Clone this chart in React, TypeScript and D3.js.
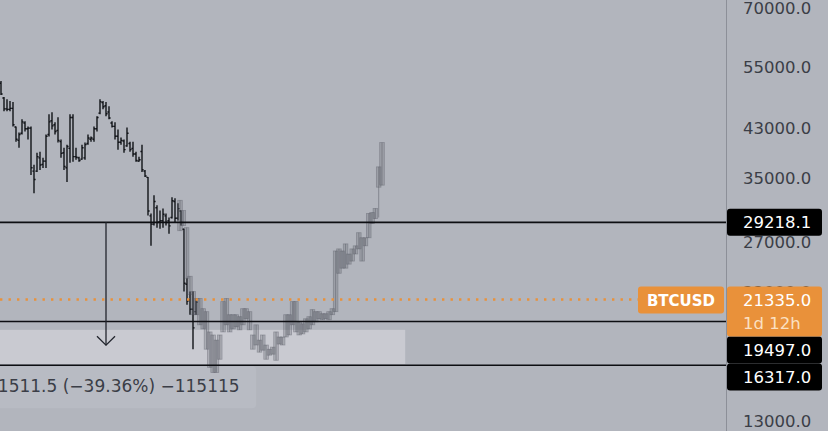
import React from "react";
import * as d3 from "d3";

const W = 828;
const H = 431;

// Black OHLC bars (price)
const blackHigh = [52000,48700,48280,47900,47700,43200,42150,44460,44100,43200,43200,36930,38800,38960,38010,41800,45400,45770,43920,44830,40935,39610,40100,45400,45400,39610,38170,40100,40440,41800,41450,43200,45020,48280,47900,47700,46920,44100,43920,42660,41280,40935,43020,40600,40600,38960,38170,40100,36170,35150,30290,32630,31310,30664,30920,30290,29800,32360,32230,31570,30660,28470,23260,22041,22041,21420];
const blackLow = [49100,45950,45950,45950,43200,40600,39600,41800,42315,40935,35450,32900,35880,36170,36470,36470,41450,42660,41800,40440,38010,36170,34430,37240,37390,37690,37390,37690,37690,40100,40600,40600,42315,45400,46330,45020,44460,43020,40935,39280,40100,38800,39780,38960,38170,37390,37390,35880,35150,30050,26550,28830,28590,28470,28590,28830,27890,29670,29190,29424,28830,22041,20890,20050,17420,20050];
const blackOpen = [51500,48500,46400,46300,46500,43100,40800,42000,43800,42800,42900,36000,36000,38000,37000,37500,41800,44200,43500,42500,40600,38800,36500,39500,44800,38200,38000,37800,38000,40300,41000,41000,42800,45600,47600,47000,45800,43800,43200,41500,40500,40700,39900,40300,39500,38600,37500,39000,36000,35100,30000,29000,31000,29300,29400,30000,29400,29800,31800,29700,30600,28400,22700,21300,20500,20300];
const blackClose = [49300,46400,46300,46500,43500,41000,41800,44000,42800,42900,36500,34800,38200,36900,37500,41500,44000,43300,42300,40800,38700,36700,39800,44800,38200,38100,37600,39600,40100,41200,41200,42800,44800,47800,46800,45500,44700,43200,41500,40500,40800,39300,42000,39300,38600,37600,37700,36200,35300,30600,29000,31800,29200,29400,30200,29200,28800,31900,29700,30900,29200,22800,21200,20500,19000,21100];

// Gray pattern candles (price)
const grayHigh = [31960,30660,28590,23450,22040,21420,21420,20550,20300,18690,18460,18080,18460,21150,21420,20050,20050,20050,19890,20550,20550,20300,18460,19240,18080,18460,17720,17420,17570,18690,18310,18310,20050,20050,21150,21150,19470,19320,19720,19890,20470,20300,20300,20130,20130,20300,20550,26000,26220,26000,26760,25680,26220,26550,28010,27440,27440,30290,30420,30920,36630,40440];
const grayLow = [28240,28830,23260,21770,20050,20050,19240,18920,17420,16180,15840,15840,16720,18690,19240,18690,18920,19080,18850,19240,19720,18850,17420,17720,17210,17350,16720,17000,17070,16650,17790,17720,18310,18460,19240,18690,18460,18540,18690,18920,19240,19470,19720,19640,19720,19640,20050,20300,23740,24240,24240,24640,24950,25680,26220,24950,26550,27440,29070,29670,29800,34000];
const grayOpen = [31960,30660,28590,23450,22040,20050,21420,20550,20300,18690,18460,15840,16720,18690,21420,20050,18920,20050,18850,19240,20550,20300,18460,17720,18080,17350,17720,17420,17070,16650,18310,17720,18310,18460,19240,21150,19470,18540,18690,18920,19240,20300,19720,20130,19720,19640,20050,20300,26220,24240,26760,24640,24950,25680,28010,24950,26550,27440,29070,29670,33720,34000];
const grayClose = [28240,28830,23260,21770,20050,21420,19240,18920,17420,16180,15840,18080,18460,21150,19240,18690,20050,19080,19890,20550,19720,18850,17420,19240,17210,18460,16720,17000,17570,18690,17790,18310,20050,20050,21150,18690,18460,19320,19720,19890,20470,19470,20300,19640,20130,20300,20550,26000,23740,26000,24240,25680,26220,26550,26220,27440,27440,30290,30420,30920,36630,40440];

const axisTicks = [70000, 55000, 43000, 35000, 27000, 22000, 13000];
const levelLines = [29218.1, 19497.0, 16317.0];
const lastPrice = 21335.0;
const symbol = "BTCUSD";
const countdown = "1d 12h";
const measureTo = 17706.6;
const measureText = "\u221211511.5 (\u221239.36%) \u2212115115";
const zoneTop = 18850;
const zoneBottom = 16400;
const measureBoxBottom = 13700;

const BG = "#b2b5bd";
const FONT = "'DejaVu Sans', sans-serif";
const ORANGE = "#e9913a";

export default function App() {
  const y = d3.scaleLog().domain([13000, 70000]).range([421, 8]);
  const xB = d3.scaleLinear().domain([0, blackHigh.length - 1]).range([1, 196]);
  const xG = d3.scaleLinear().domain([0, grayHigh.length - 1]).range([180, 382]);
  const axisX = 726.5;
  const fmt = d3.format(".1f");

  const zoneRight = xG(68);
  const boxRight = xG(23);
  const textRight = xG(18);
  const arrowX = xB(35);

  const yLevel0 = y(levelLines[0]);
  const orangeTop = y(lastPrice) - 13;
  const orangeBottom = orangeTop + 50;
  const labelTops: number[] = [];
  levelLines.forEach((p, i) => {
    let t = y(p) - 13.5;
    if (i === 1) t = Math.max(t, orangeBottom);
    if (i === 2) t = Math.max(t, labelTops[1] + 27);
    labelTops.push(t);
  });

  const mBoxTop = y(levelLines[2]) + 1;
  const mBoxBottom = y(measureBoxBottom);

  return (
    <div style={{ position: "fixed", left: 0, top: 0 }}>
      <svg width={W} height={H} style={{ display: "block" }}>
        <rect x={0} y={0} width={W} height={H} fill={BG} />
        <rect x={0} y={y(zoneTop)} width={zoneRight} height={y(zoneBottom) - y(zoneTop)} fill="#c9cad1" />
        <rect x={-4} y={mBoxTop} width={boxRight + 4} height={mBoxBottom - mBoxTop} rx={4} fill="#b8bbc3" />
        <g stroke="#111318" strokeWidth={1.4} fill="none">
          {blackHigh.map((h, i) => {
            const x = xB(i);
            return (
              <g key={i}>
                <line x1={x} x2={x} y1={y(h)} y2={y(blackLow[i])} />
                <line x1={x - 1.6} x2={x} y1={y(blackOpen[i])} y2={y(blackOpen[i])} />
                <line x1={x} x2={x + 1.6} y1={y(blackClose[i])} y2={y(blackClose[i])} />
              </g>
            );
          })}
        </g>
        <g>
          {grayHigh.map((h, i) => {
            const x = xG(i);
            const top = y(Math.max(grayOpen[i], grayClose[i]));
            const bot = y(Math.min(grayOpen[i], grayClose[i]));
            return (
              <g key={i}>
                <line x1={x} x2={x} y1={y(h)} y2={y(grayLow[i])} stroke="rgba(75,78,88,0.45)" strokeWidth={1} />
                <rect x={x - 2.3} y={top} width={4.6} height={Math.max(1, bot - top)} fill="rgba(100,103,113,0.28)" stroke="rgba(78,81,91,0.38)" strokeWidth={0.8} />
              </g>
            );
          })}
        </g>
        {levelLines.map((p, i) => (
          <line key={i} x1={0} x2={axisX} y1={y(p)} y2={y(p)} stroke="#0d0e12" strokeWidth={1.6} />
        ))}
        <line x1={0} x2={638} y1={y(lastPrice)} y2={y(lastPrice)} stroke={ORANGE} strokeWidth={2.4} strokeDasharray="2.4 6.1" />
        <g stroke="#22252d" strokeWidth={1.3} fill="none">
          <line x1={arrowX} x2={arrowX} y1={yLevel0} y2={y(measureTo)} />
          <polyline points={`${arrowX - 9},${y(measureTo) - 9} ${arrowX},${y(measureTo)} ${arrowX + 9},${y(measureTo) - 9}`} />
        </g>
        <text x={textRight} y={(mBoxTop + mBoxBottom) / 2 + 5} textAnchor="end" fontFamily={FONT} fontSize={17} fill="#3b3e47">
          {measureText}
        </text>
        <line x1={axisX} x2={axisX} y1={0} y2={H} stroke="#8c8f98" strokeWidth={1} />
        {axisTicks.map((t) => (
          <text key={t} x={743} y={y(t) + 6} fontFamily={FONT} fontSize={16.5} fill="#3b3e47">
            {fmt(t)}
          </text>
        ))}
        {levelLines.map((p, i) => (
          <g key={i}>
            <rect x={727} y={labelTops[i]} width={95} height={27} rx={3} fill="#000000" />
            <text x={743} y={labelTops[i] + 19.5} fontFamily={FONT} fontSize={16.5} fill="#ffffff">
              {fmt(p)}
            </text>
          </g>
        ))}
        <rect x={727} y={orangeTop} width={95} height={orangeBottom - orangeTop} rx={3} fill={ORANGE} />
        <text x={743} y={orangeTop + 20} fontFamily={FONT} fontSize={16.5} fill="#ffffff">
          {fmt(lastPrice)}
        </text>
        <text x={743} y={orangeTop + 43} fontFamily={FONT} fontSize={16.5} fill="#fbe0c2">
          {countdown}
        </text>
        <rect x={638} y={orangeTop} width={86} height={27} rx={3} fill={ORANGE} />
        <text x={681} y={orangeTop + 19.5} textAnchor="middle" fontFamily={FONT} fontSize={15} fontWeight="bold" fill="#ffffff">
          {symbol}
        </text>
      </svg>
    </div>
  );
}
